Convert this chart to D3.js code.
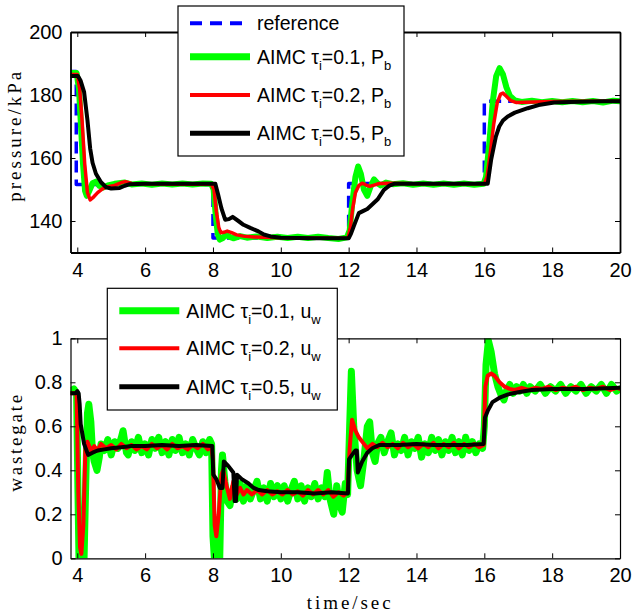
<!DOCTYPE html>
<html>
<head>
<meta charset="utf-8">
<script src="https://cdn.jsdelivr.net/npm/d3@7"></script>
<style>
  body { margin: 0; background: #fff; }
  svg { display: block; }
</style>
</head>
<body>
<div id="chart"></div>
<script>
var width = 632;
var height = 616;
var tickFont = "'Liberation Sans', Arial, sans-serif";
var labelFont = "'Liberation Serif', 'DejaVu Serif', serif";

// ---- data: [time, value] pairs ----
var xTicks = [4, 6, 8, 10, 12, 14, 16, 18, 20];
var pTicks = [140, 160, 180, 200];
var uTicks = [0, 0.2, 0.4, 0.6, 0.8, 1];

var refPressure = [[3.8,187.5],[3.97,187.5],[3.97,151.6],[8,151.6],[8,134.6],[12,134.6],[12,151.9],[16,151.9],[16,178],[20,178]];

var pressure01 = [[3.8,187],[3.98,187],[4.05,182],[4.1,172],[4.17,158],[4.23,149.5],[4.28,148],[4.35,149.5],[4.45,152],[4.55,152.5],
  [4.65,151.2],[4.76,150.6],[4.9,151.3],[5.1,151.8],[5.4,152.2],[5.6,151.6],[5.9,151.9],[6.2,151.5],[6.5,151.9],[6.8,151.6],
  [7.1,151.9],[7.4,151.6],[7.7,151.9],[7.95,151.8],[8.02,150],[8.08,142],[8.14,136],[8.2,134.1],[8.28,134.5],[8.38,135.6],
  [8.48,135],[8.6,134.5],[8.8,135.2],[9,134.7],[9.3,135.1],[9.6,134.6],[9.9,135],[10.2,134.6],[10.5,135],[10.8,134.6],
  [11.1,135],[11.4,134.6],[11.7,134.3],[11.95,134.8],[12.03,137],[12.1,145],[12.2,154],[12.28,157.3],[12.36,155],[12.45,150],
  [12.55,148],[12.65,151],[12.75,153.2],[12.85,152],[12.95,151.3],[13.1,152.2],[13.3,151.7],[13.6,152],[13.9,151.5],[14.2,151.9],
  [14.5,151.5],[14.8,151.9],[15.1,151.5],[15.4,151.9],[15.7,151.5],[15.98,151.8],[16.05,154],[16.15,165],[16.25,178],[16.35,186],
  [16.45,188.5],[16.55,186.5],[16.65,182.5],[16.75,179.8],[16.9,178.3],[17.1,177.8],[17.4,178.2],[17.7,177.7],[18,178.1],[18.3,177.7],
  [18.6,178.1],[18.9,177.7],[19.2,178.1],[19.5,177.6],[19.8,178.2],[20,178]];

var pressure02 = [[3.8,186.5],[4,186.5],[4.07,182],[4.14,172],[4.22,158],[4.3,149],[4.38,146.7],[4.48,147.6],[4.6,149],[4.75,150.3],
  [4.9,150.9],[5.1,151.3],[5.3,152.2],[5.42,152.5],[5.6,151.9],[6,151.8],[7,151.7],[7.95,151.7],[8.03,150],[8.1,143],
  [8.17,138],[8.23,136.3],[8.32,136.4],[8.42,136.8],[8.55,136.3],[8.7,135.6],[8.9,135.2],[9.2,134.9],[10,134.7],[11,134.6],
  [11.6,134.5],[11.98,134.6],[12.05,138],[12.12,144],[12.2,149],[12.3,151.3],[12.4,152],[12.5,151.5],[12.62,151],[12.75,151.4],
  [12.9,151.9],[13.2,152],[14,151.8],[15,151.8],[16,151.8],[16.08,154],[16.18,162],[16.28,171],[16.38,177.5],[16.48,180.3],
  [16.55,180.6],[16.65,179.6],[16.78,178.2],[16.95,177.6],[17.2,177.7],[18,177.9],[19,178],[20,178]];

var pressure05 = [[3.8,186],[4.02,186],[4.1,184.5],[4.2,181],[4.3,172],[4.38,163],[4.45,158.5],[4.55,155],[4.7,152.3],[4.85,150.7],
  [5,150.3],[5.25,150.5],[5.4,151.2],[5.55,151.7],[6,151.8],[8.07,151.8],[8.15,148.5],[8.25,144],[8.36,140.4],[8.47,140.6],
  [8.58,141.3],[8.75,140],[8.9,138.8],[9.1,137.8],[9.34,136.7],[9.5,135.7],[9.7,135.1],[10,134.7],[11,134.5],[12,134.5],
  [12.07,136],[12.15,138.3],[12.3,142.5],[12.45,143.3],[12.55,143.8],[12.7,145.3],[12.85,146.8],[13.04,149.9],[13.2,151.2],[13.34,151.8],
  [14,151.8],[16.1,151.8],[16.2,159.4],[16.34,166.8],[16.44,170],[16.55,171.9],[16.69,173.2],[16.9,174.4],[17.28,175.8],[17.6,176.8],
  [18.06,177.6],[18.5,177.8],[19.5,178],[20,178]];

var waste01 = [[3.8,0.76],[3.9,0.77],[3.98,0.75],[4.02,0.3],[4.05,0],[4.1,-0.02],[4.2,0],[4.25,0.35],[4.3,0.66],[4.34,0.7],
  [4.4,0.62],[4.45,0.48],[4.5,0.44],[4.58,0.4],[4.65,0.46],[4.7,0.52],[4.8,0.49],[4.9,0.54],[5,0.47],[5.1,0.53],
  [5.2,0.5],[5.3,0.55],[5.35,0.58],[5.45,0.48],[5.5,0.47],[5.6,0.53],[5.7,0.49],[5.8,0.55],[5.9,0.48],[6,0.52],
  [6.1,0.47],[6.2,0.54],[6.3,0.5],[6.4,0.55],[6.5,0.48],[6.6,0.53],[6.7,0.47],[6.8,0.54],[6.9,0.49],[7,0.55],
  [7.1,0.48],[7.2,0.52],[7.3,0.47],[7.4,0.54],[7.5,0.5],[7.6,0.47],[7.7,0.53],[7.8,0.48],[7.9,0.54],[7.96,0.52],
  [8,0.1],[8.05,-0.02],[8.2,0],[8.25,0.4],[8.28,0.47],[8.35,0.35],[8.42,0.26],[8.5,0.24],[8.6,0.32],[8.7,0.27],
  [8.8,0.34],[8.9,0.26],[9,0.33],[9.1,0.27],[9.2,0.31],[9.3,0.35],[9.4,0.27],[9.5,0.32],[9.6,0.26],[9.7,0.34],
  [9.8,0.28],[9.9,0.33],[10,0.27],[10.1,0.33],[10.2,0.26],[10.3,0.31],[10.4,0.35],[10.5,0.27],[10.6,0.33],[10.7,0.26],
  [10.8,0.32],[10.9,0.28],[11,0.34],[11.1,0.27],[11.2,0.32],[11.3,0.28],[11.37,0.39],[11.45,0.27],[11.56,0.2],[11.65,0.33],
  [11.72,0.25],[11.81,0.21],[11.9,0.34],[11.97,0.29],[12.03,0.6],[12.08,0.85],[12.15,0.6],[12.25,0.4],[12.35,0.33],[12.45,0.45],
  [12.55,0.6],[12.62,0.62],[12.7,0.48],[12.78,0.44],[12.85,0.52],[12.95,0.55],[13.05,0.48],[13.15,0.53],[13.25,0.57],[13.35,0.47],
  [13.45,0.52],[13.55,0.49],[13.65,0.55],[13.75,0.47],[13.85,0.53],[13.95,0.5],[14.05,0.55],[14.15,0.46],[14.25,0.52],[14.35,0.48],
  [14.45,0.55],[14.55,0.49],[14.65,0.54],[14.75,0.47],[14.85,0.53],[14.95,0.49],[15.05,0.55],[15.15,0.48],[15.25,0.53],[15.35,0.47],
  [15.45,0.55],[15.55,0.49],[15.65,0.53],[15.75,0.48],[15.85,0.52],[15.95,0.5],[16,0.6],[16.05,0.88],[16.12,0.99],[16.2,0.94],
  [16.3,0.84],[16.4,0.78],[16.5,0.74],[16.58,0.72],[16.65,0.76],[16.75,0.79],[16.85,0.75],[16.95,0.78],[17.05,0.76],[17.15,0.79],
  [17.25,0.75],[17.35,0.78],[17.5,0.76],[17.65,0.79],[17.8,0.75],[17.95,0.78],[18.1,0.76],[18.25,0.79],[18.4,0.75],[18.55,0.78],
  [18.7,0.76],[18.85,0.79],[19,0.75],[19.15,0.78],[19.3,0.76],[19.45,0.79],[19.6,0.75],[19.75,0.79],[19.9,0.76],[20,0.77]];

var waste02 = [[3.8,0.75],[3.98,0.75],[4.03,0.3],[4.08,0.05],[4.12,0.02],[4.18,0.15],[4.24,0.5],[4.3,0.53],[4.4,0.49],[4.5,0.51],
  [4.6,0.49],[4.7,0.52],[4.85,0.5],[5,0.515],[5.15,0.495],[5.3,0.52],[5.45,0.5],[5.6,0.515],[5.75,0.495],[5.9,0.51],
  [6.05,0.495],[6.2,0.52],[6.35,0.5],[6.5,0.515],[6.65,0.495],[6.8,0.52],[6.95,0.5],[7.1,0.51],[7.25,0.495],[7.4,0.515],
  [7.55,0.5],[7.7,0.52],[7.85,0.495],[7.95,0.51],[8,0.45],[8.05,0.15],[8.1,0.1],[8.17,0.2],[8.25,0.38],[8.3,0.4],
  [8.4,0.33],[8.5,0.27],[8.6,0.35],[8.7,0.29],[8.8,0.32],[8.9,0.29],[9,0.31],[9.15,0.29],[9.3,0.31],[9.45,0.29],
  [9.6,0.31],[9.75,0.29],[9.9,0.305],[10.05,0.29],[10.2,0.31],[10.35,0.29],[10.5,0.305],[10.65,0.285],[10.8,0.31],[10.95,0.29],
  [11.1,0.31],[11.25,0.29],[11.4,0.31],[11.55,0.28],[11.7,0.3],[11.85,0.285],[11.97,0.3],[12.03,0.5],[12.1,0.63],[12.2,0.58],
  [12.3,0.55],[12.45,0.52],[12.55,0.5],[12.7,0.52],[12.85,0.505],[13,0.525],[13.15,0.505],[13.3,0.52],[13.45,0.5],[13.6,0.525],
  [13.75,0.505],[13.9,0.52],[14.05,0.5],[14.2,0.52],[14.35,0.505],[14.5,0.525],[14.65,0.5],[14.8,0.52],[14.95,0.505],[15.1,0.525],
  [15.25,0.5],[15.4,0.52],[15.55,0.505],[15.7,0.52],[15.85,0.505],[15.98,0.515],[16.03,0.78],[16.1,0.83],[16.2,0.84],[16.3,0.83],
  [16.45,0.8],[16.6,0.78],[16.75,0.77],[16.9,0.765],[17.1,0.775],[17.3,0.765],[17.5,0.775],[17.7,0.77],[17.9,0.78],[18.1,0.765],
  [18.3,0.775],[18.5,0.77],[18.7,0.78],[18.9,0.765],[19.1,0.775],[19.3,0.77],[19.5,0.78],[19.7,0.765],[19.9,0.775],[20,0.77]];

var waste05 = [[3.8,0.75],[3.95,0.75],[4,0.76],[4.04,0.75],[4.07,0.7],[4.1,0.61],[4.2,0.52],[4.32,0.47],[4.45,0.48],[4.6,0.49],
  [4.8,0.495],[5,0.5],[5.3,0.505],[5.6,0.51],[6,0.51],[6.5,0.515],[7,0.51],[7.5,0.515],[7.98,0.51],[8.01,0.38],
  [8.1,0.36],[8.2,0.32],[8.28,0.32],[8.32,0.44],[8.45,0.42],[8.6,0.39],[8.64,0.26],[8.68,0.26],[8.71,0.38],[8.85,0.36],
  [9.05,0.34],[9.2,0.32],[9.35,0.31],[9.6,0.305],[10,0.3],[10.5,0.3],[11,0.295],[11.5,0.3],[11.98,0.295],[12.01,0.45],
  [12.1,0.47],[12.2,0.49],[12.24,0.49],[12.27,0.39],[12.4,0.44],[12.55,0.48],[12.7,0.5],[12.9,0.515],[13.5,0.515],[14,0.52],
  [14.5,0.515],[15,0.515],[15.5,0.515],[15.98,0.52],[16.02,0.64],[16.1,0.67],[16.24,0.71],[16.45,0.73],[16.7,0.745],[17,0.755],
  [17.4,0.765],[18,0.77],[19,0.77],[20,0.775]];

var legendTop = [
  {label: "reference", sub: "", tail: "", color: "#0000ff", w: 4, dash: "12,8"},
  {label: "AIMC \u03c4", sub: "i", tail: "=0.1, P", sub2: "b", color: "#00ff00", w: 7},
  {label: "AIMC \u03c4", sub: "i", tail: "=0.2, P", sub2: "b", color: "#ff0000", w: 4},
  {label: "AIMC \u03c4", sub: "i", tail: "=0.5, P", sub2: "b", color: "#000000", w: 5}
];
var legendBottom = [
  {label: "AIMC \u03c4", sub: "i", tail: "=0.1, u", sub2: "w", color: "#00ff00", w: 7},
  {label: "AIMC \u03c4", sub: "i", tail: "=0.2, u", sub2: "w", color: "#ff0000", w: 4},
  {label: "AIMC \u03c4", sub: "i", tail: "=0.5, u", sub2: "w", color: "#000000", w: 5}
];

var svg = d3.select("#chart").append("svg")
      .attr("width", width)
      .attr("height", height);

// scales
var xScale = d3.scaleLinear().domain([3.8, 20]).range([70.5, 620]);
var yTop = d3.scaleLinear().domain([130, 200]).range([252.5, 32]);
var yBot = d3.scaleLinear().domain([0, 1]).range([558.3, 338.3]);

var drawPanel = function(id, yScale, yTicks, fmt, series, strokeW) {
      var g = svg.append("g");
      var x0 = xScale.range()[0], x1 = xScale.range()[1];
      var y0 = yScale.range()[1], y1 = yScale.range()[0];

      svg.append("clipPath").attr("id", id)
            .append("rect")
            .attr("x", x0).attr("y", y0)
            .attr("width", x1 - x0).attr("height", y1 - y0);

      var line = d3.line()
            .x(d => xScale(d[0]))
            .y(d => yScale(d[1]));

      var plot = g.append("g").attr("clip-path", "url(#" + id + ")");
      series.forEach(function(s) {
            plot.append("path")
                  .attr("d", line(s.data))
                  .style("fill", "none")
                  .style("stroke", s.color)
                  .style("stroke-width", s.w)
                  .style("stroke-dasharray", s.dash || null)
                  .style("stroke-linejoin", "round")
                  .style("stroke-linecap", s.dash ? "butt" : "round");
      });

      // matlab style box with inner ticks on all sides
      var xAxisB = d3.axisBottom(xScale).tickValues(xTicks).tickSizeInner(-5).tickSizeOuter(0).tickPadding(10).tickFormat(d3.format("d"));
      var xAxisT = d3.axisTop(xScale).tickValues(xTicks).tickSizeInner(-5).tickSizeOuter(0).tickFormat("");
      var yAxisL = d3.axisLeft(yScale).tickValues(yTicks).tickSizeInner(-5).tickSizeOuter(0).tickPadding(8).tickFormat(fmt);
      var yAxisR = d3.axisRight(yScale).tickValues(yTicks).tickSizeInner(-5).tickSizeOuter(0).tickFormat("");

      var axes = [
            g.append("g").attr("transform", "translate(0," + y1 + ")").call(xAxisB),
            g.append("g").attr("transform", "translate(0," + y0 + ")").call(xAxisT),
            g.append("g").attr("transform", "translate(" + x0 + ",0)").call(yAxisL),
            g.append("g").attr("transform", "translate(" + x1 + ",0)").call(yAxisR)
      ];
      axes.forEach(function(a) {
            a.select(".domain").style("stroke", "#000").style("stroke-width", strokeW);
            a.selectAll(".tick line").style("stroke", "#000").style("stroke-width", 1);
            a.selectAll("text")
                  .style("font-family", tickFont)
                  .style("font-size", "20px")
                  .style("fill", "#000");
      });
      return g;
};

drawPanel("clipTop", yTop, pTicks, d3.format("d"), [
      {data: refPressure, color: "#0000ff", w: 3.5, dash: "12,7"},
      {data: pressure01, color: "#00ff00", w: 6},
      {data: pressure02, color: "#ff0000", w: 3.5},
      {data: pressure05, color: "#000000", w: 4}
], 1.8);

drawPanel("clipBot", yBot, uTicks, function(d) { return d === 0 || d === 1 ? d : d3.format(".1f")(d); }, [
      {data: waste01, color: "#00ff00", w: 7},
      {data: waste02, color: "#ff0000", w: 4},
      {data: waste05, color: "#000000", w: 4}
], 1.2);

// legends
var drawLegend = function(items, box, rowY) {
      var lg = svg.append("g");
      lg.append("rect")
            .attr("x", box[0]).attr("y", box[1])
            .attr("width", box[2]).attr("height", box[3])
            .style("fill", "#fff")
            .style("stroke", "#000")
            .style("stroke-width", 1.2);
      items.forEach(function(d, i) {
            var y = rowY[i];
            lg.append("line")
                  .attr("x1", box[0] + 12).attr("x2", box[0] + 72)
                  .attr("y1", y).attr("y2", y)
                  .style("stroke", d.color)
                  .style("stroke-width", d.w)
                  .style("stroke-dasharray", d.dash || null);
            var t = lg.append("text")
                  .attr("x", box[0] + 79)
                  .attr("y", y + 7)
                  .style("font-family", tickFont)
                  .style("font-size", "19.5px")
                  .style("fill", "#000");
            t.append("tspan").text(d.label);
            if (d.sub) {
                  t.append("tspan").attr("dy", 6).style("font-size", "13px").text(d.sub);
                  t.append("tspan").attr("dy", -6).text(d.tail);
                  t.append("tspan").attr("dy", 6).style("font-size", "13px").text(d.sub2);
            }
      });
};

drawLegend(legendTop, [178, 6, 226, 150], [23.3, 56.7, 95, 133.3]);
drawLegend(legendBottom, [107.3, 288.3, 230, 121.7], [310.7, 348.3, 386.7]);

// axis labels
svg.append("text")
      .attr("transform", "translate(21,136.7) rotate(-90)")
      .attr("text-anchor", "middle")
      .attr("textLength", 130)
      .style("font-family", labelFont)
      .style("font-size", "19px")
      .text("pressure/kPa");

svg.append("text")
      .attr("transform", "translate(22,443.3) rotate(-90)")
      .attr("text-anchor", "middle")
      .attr("textLength", 97)
      .style("font-family", labelFont)
      .style("font-size", "19px")
      .text("wastegate");

svg.append("text")
      .attr("x", 348.7)
      .attr("y", 609)
      .attr("text-anchor", "middle")
      .attr("textLength", 84)
      .style("font-family", labelFont)
      .style("font-size", "19px")
      .text("time/sec");
</script>
</body>
</html>
